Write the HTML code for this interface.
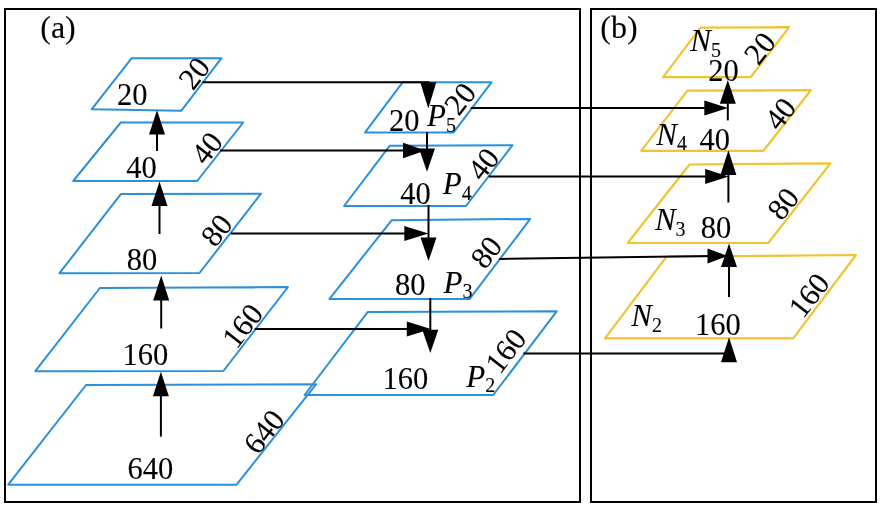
<!DOCTYPE html>
<html><head><meta charset="utf-8"><style>
html,body{margin:0;padding:0;background:#fff;}
svg{display:block;will-change:transform;}
text{font-family:"Liberation Serif", serif;fill:#000;stroke:#000;stroke-width:0.1px;}
</style></head><body>
<svg width="882" height="508" viewBox="0 0 882 508">
<rect x="5" y="9" width="575" height="493" fill="none" stroke="#000" stroke-width="2"/>
<rect x="591" y="9" width="285" height="493" fill="none" stroke="#000" stroke-width="2"/>
<text x="58" y="38.3" font-size="32" text-anchor="middle" >(a)</text>
<text x="619" y="38.3" font-size="32" text-anchor="middle" >(b)</text>
<polygon points="131.7,58.2 221.5,58.2 181.2,110.8 91.8,109.2" fill="none" stroke="#2b8fdb" stroke-width="2.0" stroke-linejoin="round"/>
<polygon points="120.8,122.5 243.2,122.5 197.2,181.0 73.2,181.0" fill="none" stroke="#2b8fdb" stroke-width="2.0" stroke-linejoin="round"/>
<polygon points="121.0,193.9 261.0,193.7 199.5,273.0 59.5,273.2" fill="none" stroke="#2b8fdb" stroke-width="2.0" stroke-linejoin="round"/>
<polygon points="99.9,288.0 288.0,287.0 223.4,371.0 35.3,371.2" fill="none" stroke="#2b8fdb" stroke-width="2.0" stroke-linejoin="round"/>
<polygon points="86.0,385.0 316.2,384.2 236.6,484.7 8.2,484.7" fill="none" stroke="#2b8fdb" stroke-width="2.0" stroke-linejoin="round"/>
<polygon points="402.6,82.3 491.5,82.3 453.4,132.6 364.9,132.6" fill="none" stroke="#2b8fdb" stroke-width="2.0" stroke-linejoin="round"/>
<polygon points="389.8,145.7 512.5,145.2 466.0,206.0 344.1,206.0" fill="none" stroke="#2b8fdb" stroke-width="2.0" stroke-linejoin="round"/>
<polygon points="391.6,220.3 530.3,218.9 469.7,298.9 329.5,298.9" fill="none" stroke="#2b8fdb" stroke-width="2.0" stroke-linejoin="round"/>
<polygon points="367.8,311.9 556.7,311.3 493.2,395.0 304.6,395.0" fill="none" stroke="#2b8fdb" stroke-width="2.0" stroke-linejoin="round"/>
<polygon points="700.5,27.6 789.2,27.2 750.7,77.1 663.1,77.1" fill="none" stroke="#efc433" stroke-width="2.2" stroke-linejoin="round"/>
<polygon points="687.4,90.7 810.8,90.2 763.4,150.8 641.2,150.8" fill="none" stroke="#efc433" stroke-width="2.2" stroke-linejoin="round"/>
<polygon points="689.5,164.5 830.4,163.4 768.3,243.0 627.7,243.0" fill="none" stroke="#efc433" stroke-width="2.2" stroke-linejoin="round"/>
<polygon points="666.5,256.6 856.0,255.0 793.2,338.3 605.0,338.3" fill="none" stroke="#efc433" stroke-width="2.2" stroke-linejoin="round"/>
<text x="132.2" y="105.3" font-size="30.5" text-anchor="middle" >20</text>
<text x="141.4" y="177.6" font-size="30.5" text-anchor="middle" >40</text>
<text x="141.9" y="269.8" font-size="30.5" text-anchor="middle" >80</text>
<text x="145.4" y="365.2" font-size="30.5" text-anchor="middle" >160</text>
<text x="150.4" y="478.5" font-size="30.5" text-anchor="middle" >640</text>
<g transform="translate(194.1,73.2) rotate(-52)"><text x="0" y="10.4" font-size="30.5" text-anchor="middle">20</text></g>
<g transform="translate(206.8,147.9) rotate(-52)"><text x="0" y="10.4" font-size="30.5" text-anchor="middle">40</text></g>
<g transform="translate(216.5,230.0) rotate(-52)"><text x="0" y="10.4" font-size="30.5" text-anchor="middle">80</text></g>
<g transform="translate(242.3,325.5) rotate(-52)"><text x="0" y="10.4" font-size="30.5" text-anchor="middle">160</text></g>
<g transform="translate(263.8,431.5) rotate(-52)"><text x="0" y="10.4" font-size="30.5" text-anchor="middle">640</text></g>
<text x="404.3" y="130.8" font-size="30.5" text-anchor="middle" >20</text>
<text x="415.4" y="203.7" font-size="30.5" text-anchor="middle" >40</text>
<text x="410.2" y="294.8" font-size="30.5" text-anchor="middle" >80</text>
<text x="405.4" y="389.0" font-size="30.5" text-anchor="middle" >160</text>
<text x="427" y="126.2" font-size="31" font-style="italic">P<tspan font-size="20" font-style="normal" dy="5.5">5</tspan></text>
<text x="442.7" y="194" font-size="31" font-style="italic">P<tspan font-size="20" font-style="normal" dy="5.5">4</tspan></text>
<text x="443.5" y="292.8" font-size="31" font-style="italic">P<tspan font-size="20" font-style="normal" dy="5.5">3</tspan></text>
<text x="466.2" y="386.8" font-size="31" font-style="italic">P<tspan font-size="20" font-style="normal" dy="5.5">2</tspan></text>
<g transform="translate(460.0,98.6) rotate(-52)"><text x="0" y="10.4" font-size="30.5" text-anchor="middle">20</text></g>
<g transform="translate(483.3,163.8) rotate(-52)"><text x="0" y="10.4" font-size="30.5" text-anchor="middle">40</text></g>
<g transform="translate(486.1,252.1) rotate(-52)"><text x="0" y="10.4" font-size="30.5" text-anchor="middle">80</text></g>
<g transform="translate(505.6,350.7) rotate(-52)"><text x="0" y="10.4" font-size="30.5" text-anchor="middle">160</text></g>
<text x="723.5" y="81.0" font-size="30.5" text-anchor="middle" >20</text>
<text x="714.8" y="149.8" font-size="30.5" text-anchor="middle" >40</text>
<text x="715.9" y="238.4" font-size="30.5" text-anchor="middle" >80</text>
<text x="717.8" y="335.2" font-size="30.5" text-anchor="middle" >160</text>
<text x="690.3" y="51.4" font-size="31" font-style="italic">N<tspan font-size="20" font-style="normal" dy="5.5">5</tspan></text>
<text x="656.2" y="144.8" font-size="31" font-style="italic">N<tspan font-size="20" font-style="normal" dy="5.5">4</tspan></text>
<text x="654.9" y="230.3" font-size="31" font-style="italic">N<tspan font-size="20" font-style="normal" dy="5.5">3</tspan></text>
<text x="631.3" y="326.3" font-size="31" font-style="italic">N<tspan font-size="20" font-style="normal" dy="5.5">2</tspan></text>
<g transform="translate(759.8,48.1) rotate(-52)"><text x="0" y="10.4" font-size="30.5" text-anchor="middle">20</text></g>
<g transform="translate(780.1,113.7) rotate(-52)"><text x="0" y="10.4" font-size="30.5" text-anchor="middle">40</text></g>
<g transform="translate(783.0,203.7) rotate(-52)"><text x="0" y="10.4" font-size="30.5" text-anchor="middle">80</text></g>
<g transform="translate(808.9,295.1) rotate(-52)"><text x="0" y="10.4" font-size="30.5" text-anchor="middle">160</text></g>
<line x1="157" y1="151" x2="157" y2="130" stroke="#000" stroke-width="2.0"/>
<polygon points="157,110.3 165,134.5 149,134.5" fill="#000"/>
<line x1="159.5" y1="234" x2="159.5" y2="200" stroke="#000" stroke-width="2.0"/>
<polygon points="159.5,181.5 167.5,205.9 151.5,205.9" fill="#000"/>
<line x1="161.2" y1="328.5" x2="161.2" y2="296" stroke="#000" stroke-width="2.0"/>
<polygon points="161.2,275.6 169.2,300.6 153.2,300.6" fill="#000"/>
<line x1="160.9" y1="436.6" x2="160.9" y2="390" stroke="#000" stroke-width="2.0"/>
<polygon points="160.9,371.8 168.9,396.2 152.9,396.2" fill="#000"/>
<line x1="202.5" y1="82.3" x2="429.4" y2="82.3" stroke="#000" stroke-width="2.0"/>
<polygon points="428.3,108.4 436.3,82.3 420.3,82.3" fill="#000"/>
<line x1="220" y1="150.5" x2="410" y2="150.5" stroke="#000" stroke-width="2.0"/>
<polygon points="425.3,150.5 403,142.7 403,158.3" fill="#000"/>
<line x1="231" y1="233.5" x2="410" y2="233.5" stroke="#000" stroke-width="2.0"/>
<polygon points="428.5,233.5 404.3,226.0 404.3,241.0" fill="#000"/>
<line x1="254.7" y1="329" x2="412" y2="329" stroke="#000" stroke-width="2.0"/>
<polygon points="430.9,329 406.8,321.5 406.8,336.5" fill="#000"/>
<line x1="427" y1="132" x2="427" y2="152" stroke="#000" stroke-width="2.0"/>
<polygon points="427,171.8 435,148.4 419,148.4" fill="#000"/>
<line x1="428.5" y1="205" x2="428.5" y2="240" stroke="#000" stroke-width="2.0"/>
<polygon points="428.5,261.1 436.5,237.4 420.5,237.4" fill="#000"/>
<line x1="430.3" y1="298" x2="430.3" y2="332" stroke="#000" stroke-width="2.0"/>
<polygon points="430.3,353.1 438.3,329.7 422.3,329.7" fill="#000"/>
<line x1="470.7" y1="108.1" x2="710" y2="108.1" stroke="#000" stroke-width="2.0"/>
<polygon points="728.0,108.1 704.3,100.6 704.3,115.6" fill="#000"/>
<line x1="488.7" y1="176.4" x2="710" y2="176.4" stroke="#000" stroke-width="2.0"/>
<polygon points="728.8,176.4 705.2,168.9 705.2,183.9" fill="#000"/>
<line x1="499.1" y1="259.0" x2="712" y2="256" stroke="#000" stroke-width="2.0"/>
<polygon points="727.7,256 707.5,248.5 707.5,263.5" fill="#000"/>
<line x1="523.3" y1="353.6" x2="729.5" y2="353.6" stroke="#000" stroke-width="2.0"/>
<polygon points="729,337.2 737,362.2 721,362.2" fill="#000"/>
<line x1="729" y1="297" x2="729" y2="262" stroke="#000" stroke-width="2.0"/>
<polygon points="729,243.6 737,267 721,267" fill="#000"/>
<line x1="728.4" y1="202.5" x2="728.4" y2="170" stroke="#000" stroke-width="2.0"/>
<polygon points="728.4,150.2 736.4,175 720.4,175" fill="#000"/>
<line x1="727.8" y1="120.4" x2="727.8" y2="100" stroke="#000" stroke-width="2.0"/>
<polygon points="727.8,80.0 735.8,103.7 719.8,103.7" fill="#000"/>
</svg>
</body></html>
